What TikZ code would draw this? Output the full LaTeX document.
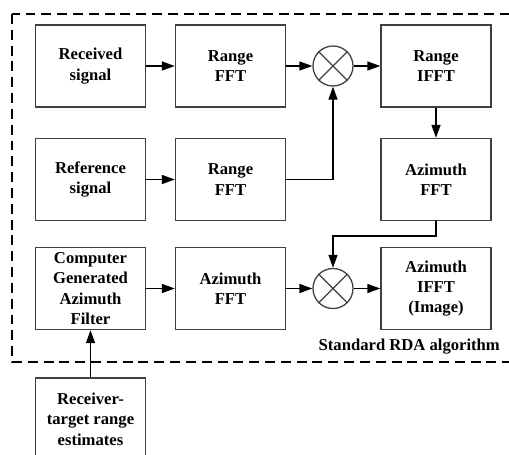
\documentclass[tikz,border=0pt]{standalone}
\usepackage{fontspec}
\setmainfont{Liberation Serif}
\usetikzlibrary{arrows.meta}

\begin{document}
\begin{tikzpicture}[
    x=0.03cm, y=-0.03cm,
    box/.style={rectangle, draw=black!75, line width=1.1pt, minimum width=3.3cm, minimum height=2.46cm, inner sep=0pt, align=center, font=\fontsize{14.2}{17.4}\selectfont\bfseries},
    mixer/.style={circle, draw=black!75, line width=1.1pt, minimum size=1.2cm, inner sep=0pt},
    arrow/.style={-{Triangle[length=11pt, width=7.5pt]}, line width=1.5pt},
]
\useasboundingbox (0,0) rectangle (509,455);
\clip (0,0) rectangle (509,455);

% Frame of the standard algorithm
\draw[line width=1.3pt, dash pattern=on 8.5pt off 5pt] (12,14) rectangle (514,362);
\node[anchor=east, font=\fontsize{14.2}{17.4}\selectfont\bfseries] (rdalabel) at (504, 347) {Standard RDA algorithm};

% Row 1
\node[box] (recv) at (90.5, 66) {Received\\signal};
\node[box] (rfft1) at (230.5, 66) {Range\\FFT};
\node[mixer] (mix1) at (333, 66) {};
\node[box] (rifft) at (436, 66) {Range\\IFFT};

% Row 2
\node[box] (refsig) at (90.5, 179.5) {Reference\\signal};
\node[box] (rfft2) at (230.5, 179.5) {Range\\FFT};
\node[box] (afft1) at (436, 179.5) {Azimuth\\FFT};

% Row 3
\node[box] (filter) at (90.5, 288.5) {Computer\\Generated\\Azimuth\\Filter};
\node[box] (afft2) at (230.5, 288.5) {Azimuth\\FFT};
\node[mixer] (mix2) at (333, 288.5) {};
\node[box] (aifft) at (436, 288.5) {Azimuth\\IFFT\\(Image)};

% Input outside the frame
\node[box] (est) at (90.5, 419) {Receiver-\\target range\\estimates};

% Crosses in the mixers
\draw[line width=1.1pt, black!75] (mix1.north west) -- (mix1.south east) (mix1.north east) -- (mix1.south west);
\draw[line width=1.1pt, black!75] (mix2.north west) -- (mix2.south east) (mix2.north east) -- (mix2.south west);

% Arrows
\draw[arrow] (recv) -- (rfft1);
\draw[arrow] (rfft1) -- (mix1);
\draw[arrow] (mix1) -- (rifft);
\draw[arrow] (refsig) -- (rfft2);
\draw[arrow] (rfft2.east) -| (mix1.south);
\draw[arrow] (rifft) -- (afft1);
\draw[arrow] (afft1.south) -- ++(0,15) -| (mix2.north);
\draw[arrow] (filter) -- (afft2);
\draw[arrow] (afft2) -- (mix2);
\draw[arrow] (mix2) -- (aifft);
\draw[arrow] (est) -- (filter);
\end{tikzpicture}
\end{document}
